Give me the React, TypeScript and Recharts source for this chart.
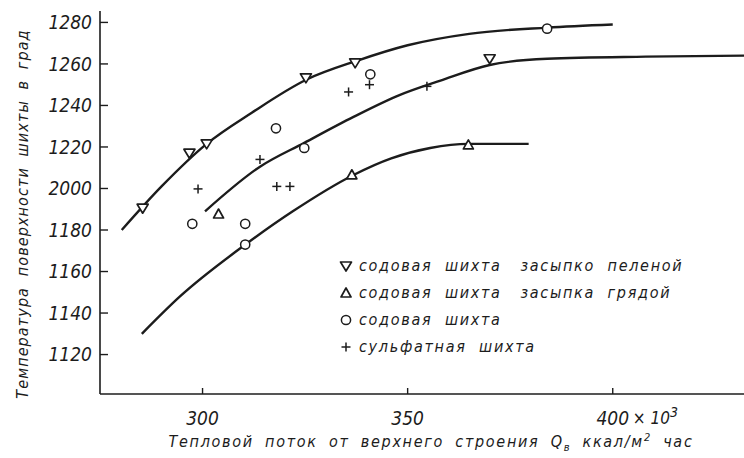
import React from "react"
import { ComposedChart, Line, Scatter, XAxis, YAxis, Legend } from "recharts"

// fitted curves (heat flow, thousand kcal/m2·h  ->  surface temperature, °C)
const upperCurve = [
  { x: 280.3, y: 1180 },
  { x: 290, y: 1201 },
  { x: 301, y: 1221.5 },
  { x: 312, y: 1236.5 },
  { x: 325.4, y: 1252.5 },
  { x: 337.6, y: 1261.5 },
  { x: 350, y: 1269 },
  { x: 365, y: 1274.5 },
  { x: 384, y: 1277.5 },
  { x: 400, y: 1279 },
]

const middleCurve = [
  { x: 300.6, y: 1189 },
  { x: 314, y: 1210.5 },
  { x: 324.8, y: 1222 },
  { x: 336.8, y: 1234.5 },
  { x: 348, y: 1245 },
  { x: 358, y: 1252 },
  { x: 370, y: 1259.5 },
  { x: 384, y: 1262.5 },
  { x: 408, y: 1263.5 },
  { x: 432, y: 1264 },
]

const lowerCurve = [
  { x: 285.2, y: 1130 },
  { x: 294.5, y: 1148 },
  { x: 310.8, y: 1173.5 },
  { x: 322, y: 1189 },
  { x: 336.8, y: 1206.5 },
  { x: 346, y: 1214.5 },
  { x: 355.5, y: 1219.5 },
  { x: 364.8, y: 1221.5 },
  { x: 379.5, y: 1221.5 },
]

// measured points
const layerPoints = [
  { x: 285.4, y: 1190.5 },
  { x: 296.8, y: 1217 },
  { x: 301, y: 1221.5 },
  { x: 325.2, y: 1253.3 },
  { x: 337.2, y: 1260.5 },
  { x: 370, y: 1262.5 },
]

const ridgePoints = [
  { x: 303.9, y: 1187.7 },
  { x: 336.4, y: 1206.6 },
  { x: 364.8, y: 1221 },
]

const sodaPoints = [
  { x: 297.5, y: 1183 },
  { x: 310.4, y: 1183 },
  { x: 310.4, y: 1173 },
  { x: 317.9, y: 1229 },
  { x: 324.8, y: 1219.5 },
  { x: 340.9, y: 1255 },
  { x: 384, y: 1277 },
]

const sulfatePoints = [
  { x: 298.9, y: 1199.8 },
  { x: 314, y: 1214 },
  { x: 318.1, y: 1201 },
  { x: 321.3, y: 1201 },
  { x: 335.6, y: 1246.5 },
  { x: 340.7, y: 1250 },
  { x: 354.7, y: 1249.2 },
]

const seriesNames = [
  "содовая  шихта   засыпко  пеленой",
  "содовая  шихта   засыпка  грядой",
  "содовая  шихта",
  "сульфатная  шихта",
]

const xTicks = [300, 350, 400]
const yTicks = [1120, 1140, 1160, 1180, 1200, 1220, 1240, 1260, 1280]
const yTickLabels = ["1120", "1140", "1160", "1180", "2000", "1220", "1240", "1260", "1280"]

const INK = "#1c1c1c"
const FONT = "'Liberation Sans Narrow', 'DejaVu Sans Condensed', 'Noto Sans', sans-serif"

type MarkProps = { cx?: number; cy?: number }

const TriDown = ({ cx = 0, cy = 0 }: MarkProps) => (
  <polygon
    points={`${cx - 5.5},${cy - 4} ${cx + 5.5},${cy - 4} ${cx},${cy + 5}`}
    fill="#fff"
    stroke={INK}
    strokeWidth={1.7}
    strokeLinejoin="round"
  />
)

const TriUp = ({ cx = 0, cy = 0 }: MarkProps) => (
  <polygon
    points={`${cx - 5},${cy + 4} ${cx + 5},${cy + 4} ${cx},${cy - 5}`}
    fill="#fff"
    stroke={INK}
    strokeWidth={1.7}
    strokeLinejoin="round"
  />
)

const Ring = ({ cx = 0, cy = 0 }: MarkProps) => (
  <circle cx={cx} cy={cy} r={4.6} fill="#fff" stroke={INK} strokeWidth={1.5} />
)

const Cross = ({ cx = 0, cy = 0 }: MarkProps) => (
  <g stroke={INK} strokeWidth={1.5}>
    <line x1={cx - 4.5} x2={cx + 4.5} y1={cy} y2={cy} />
    <line x1={cx} x2={cx} y1={cy - 4.5} y2={cy + 4.5} />
  </g>
)

const markers = [TriDown, TriUp, Ring, Cross]

const YTick = ({ x, y, payload }: any) => {
  const label = yTickLabels[yTicks.indexOf(payload.value)]
  return (
    <g>
      <line x1={x} x2={x + 8} y1={y} y2={y} stroke={INK} strokeWidth={1.4} />
      <text
        x={x - 8}
        y={y}
        dy="0.36em"
        textAnchor="end"
        fontFamily={FONT}
        fontStyle="italic"
        fontSize={19}
        fill={INK}
      >
        {label}
      </text>
    </g>
  )
}

const XTick = ({ x, y, payload }: any) => (
  <g>
    <line x1={x} x2={x} y1={y} y2={y - 6} stroke={INK} strokeWidth={1.4} />
    <text
      x={x}
      y={y + 24}
      dy="0.36em"
      textAnchor="middle"
      fontFamily={FONT}
      fontStyle="italic"
      fontSize={19}
      fill={INK}
    >
      {payload.value}
    </text>
    {payload.value === xTicks[xTicks.length - 1] && (
      <text x={x + 20} y={y + 24} dy="0.36em" fontFamily={FONT} fontStyle="italic" fontSize={17} fill={INK}>
        <tspan>× 10</tspan>
        <tspan dy="-7" fontSize={14}>3</tspan>
      </text>
    )}
  </g>
)

const LegendBox = () => (
  <div style={{ fontFamily: FONT, fontStyle: "italic", fontSize: 16, color: INK, letterSpacing: 1.7 }}>
    {seriesNames.map((name, i) => {
      const Mark = markers[i]
      return (
        <div key={name} style={{ display: "flex", alignItems: "center", height: 27, whiteSpace: "pre" }}>
          <svg width={14} height={14} style={{ marginRight: 6 }}>
            <Mark cx={7} cy={7} />
          </svg>
          <span>{name}</span>
        </div>
      )
    })}
  </div>
)

export default function App() {
  return (
    <div style={{ position: "relative", width: 744, height: 458, background: "#fff", overflow: "hidden" }}>
      <style>{"body{margin:0;background:#fff}"}</style>
      <ComposedChart width={744} height={458} margin={{ top: 11, right: 0, bottom: 0, left: 0 }}>
        <XAxis
          type="number"
          dataKey="x"
          domain={[275, 432]}
          ticks={xTicks}
          height={64}
          tickSize={0}
          tickMargin={0}
          tickLine={false}
          tick={<XTick />}
          axisLine={{ stroke: INK, strokeWidth: 1.6 }}
        />
        <YAxis
          type="number"
          dataKey="y"
          domain={[1101, 1285.5]}
          ticks={yTicks}
          width={100}
          tickSize={0}
          tickMargin={0}
          tickLine={false}
          tick={<YTick />}
          axisLine={{ stroke: INK, strokeWidth: 1.6 }}
        />
        <Line data={upperCurve} dataKey="y" type="monotone" dot={false} stroke={INK} strokeWidth={2.4} isAnimationActive={false} legendType="none" />
        <Line data={middleCurve} dataKey="y" type="monotone" dot={false} stroke={INK} strokeWidth={2.4} isAnimationActive={false} legendType="none" />
        <Line data={lowerCurve} dataKey="y" type="monotone" dot={false} stroke={INK} strokeWidth={2.4} isAnimationActive={false} legendType="none" />
        <Scatter name={seriesNames[0]} data={layerPoints} shape={<TriDown />} isAnimationActive={false} />
        <Scatter name={seriesNames[1]} data={ridgePoints} shape={<TriUp />} isAnimationActive={false} />
        <Scatter name={seriesNames[2]} data={sodaPoints} shape={<Ring />} isAnimationActive={false} />
        <Scatter name={seriesNames[3]} data={sulfatePoints} shape={<Cross />} isAnimationActive={false} />
        <Legend
          layout="vertical"
          align="center"
          verticalAlign="middle"
          content={<LegendBox />}
          wrapperStyle={{ left: 339, top: 252, width: 400 }}
        />
        {/* axis titles */}
        <text
          x={22}
          y={214}
          transform="rotate(-90 22 214)"
          textAnchor="middle"
          dy="0.36em"
          fontFamily={FONT}
          fontStyle="italic"
          fontSize={16}
          letterSpacing={1.1}
          wordSpacing={5}
          fill={INK}
        >
          Температура поверхности шихты в град
        </text>
        <text
          x={431}
          y={441}
          textAnchor="middle"
          dy="0.36em"
          fontFamily={FONT}
          fontStyle="italic"
          fontSize={16}
          letterSpacing={1.7}
          wordSpacing={5}
          fill={INK}
        >
          <tspan>Тепловой поток от верхнего строения Q</tspan>
          <tspan dy="4" fontSize={11}>в</tspan>
          <tspan dy="-4"> ккал/м</tspan>
          <tspan dy="-6" fontSize={11}>2</tspan>
          <tspan dy="6"> час</tspan>
        </text>
      </ComposedChart>
    </div>
  )
}
